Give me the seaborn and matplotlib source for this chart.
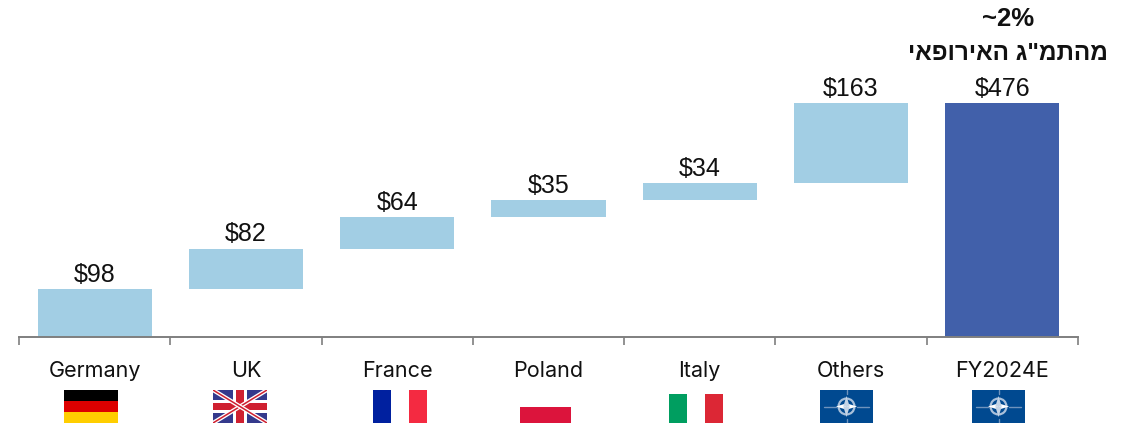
import numpy as np
import pandas as pd
import matplotlib
matplotlib.use("Agg")
import matplotlib.pyplot as plt
from matplotlib.patches import Rectangle, Polygon, Ellipse
import seaborn as sns

categories = ["Germany", "UK", "France", "Poland", "Italy", "Others", "FY2024E"]
increments = [98, 82, 64, 35, 34, 163]
total = [476]
bar_labels = ["$98", "$82", "$64", "$35", "$34", "$163", "$476"]
note_top = "~2%"
note_hebrew = 'מהתמ"ג האירופאי'

LIGHT = "#a2cee4"
DARK = "#4160aa"
W, H = 1132, 423

sns.set_theme(style="white")
plt.rcParams["font.family"] = ["Liberation Sans", "DejaVu Sans"]

# waterfall: each step starts where the last one ended
values = increments + total
bottoms = list(np.cumsum([0] + increments[:-1])) + [0]
df = pd.DataFrame({"category": categories, "value": values, "bottom": bottoms})

fig = plt.figure(figsize=(W / 100, H / 100), dpi=100)
ax = fig.add_axes([19 / W, 1 - 337 / H, (1078 - 19) / W, (337 - 103) / H])

sns.barplot(data=df, x="category", y="value", bottom=df["bottom"].to_numpy(),
            color=LIGHT, width=0.754, saturation=1, linewidth=0, ax=ax)
ax.patches[-1].set_facecolor(DARK)

ax.set_xlim(-0.5, 6.5)
ax.set_ylim(0, 476)
ax.set_xlabel("")
ax.set_ylabel("")
ax.set_yticks([])
for s in ["top", "left", "right"]:
    ax.spines[s].set_visible(False)
ax.spines["bottom"].set_color("#7f7f7f")
ax.spines["bottom"].set_linewidth(1.4)

# ticks on the category boundaries, names on hidden minor ticks
ax.set_xticks(np.arange(-0.5, 7, 1))
ax.set_xticklabels([])
ax.tick_params(axis="x", which="major", length=6, width=1.2, color="#7f7f7f", bottom=True)
ax.set_xticks(np.arange(7), minor=True)
ax.set_xticklabels(categories, minor=True, fontfamily="Inter", fontsize=15.5, color="#111111")
ax.tick_params(axis="x", which="minor", length=0, pad=17.5)

for i, (lab, v, b) in enumerate(zip(bar_labels, values, bottoms)):
    ax.annotate(lab, (i, v + b), xytext=(0, 1.5), textcoords="offset points",
                ha="center", va="bottom", fontsize=18, color="#111111")

fig.text(1008 / W, 1 - 19 / H, note_top, ha="center", va="center", fontsize=18.5,
         fontweight="bold", color="#111111")
# matplotlib has no bidi support, so the Hebrew is handed over in visual order
fig.text(1008 / W, 1 - 53 / H, note_hebrew[::-1], ha="center", va="center", fontsize=17.5,
         fontweight="bold", color="#111111")


def flag_ax(x0, y0, x1, y1):
    a = fig.add_axes([x0 / W, 1 - y1 / H, (x1 - x0) / W, (y1 - y0) / H])
    a.set_xlim(0, 1)
    a.set_ylim(0, 1)
    a.axis("off")
    return a


def stripes(a, colors, vertical=False):
    n = len(colors)
    for i, c in enumerate(colors):
        if vertical:
            a.add_patch(Rectangle((i / n, 0), 1 / n, 1, color=c, lw=0))
        else:
            a.add_patch(Rectangle((0, 1 - (i + 1) / n), 1, 1 / n, color=c, lw=0))


def uk_flag(a):
    a.add_patch(Rectangle((0, 0), 1, 1, color="#34398c", lw=0))
    for xs, ys in [((0, 1), (0, 1)), ((0, 1), (1, 0))]:
        a.plot(xs, ys, color="white", lw=3, solid_capstyle="butt")
        a.plot(xs, ys, color="#cf2030", lw=1.1, solid_capstyle="butt")
    a.add_patch(Rectangle((0.375, 0), 0.25, 1, color="white", lw=0))
    a.add_patch(Rectangle((0, 0.3), 1, 0.4, color="white", lw=0))
    a.add_patch(Rectangle((0.425, 0), 0.15, 1, color="#cf2030", lw=0))
    a.add_patch(Rectangle((0, 0.4), 1, 0.2, color="#cf2030", lw=0))


def nato_flag(a):
    a.add_patch(Rectangle((0, 0), 1, 1, color="#004990", lw=0))
    cx, cy = 0.5, 0.5
    rx = 0.15
    ry = rx * 53 / 33
    for xs, ys in [((0.08, 0.3), (cy, cy)), ((0.7, 0.92), (cy, cy)),
                   ((cx, cx), (0.0, 0.12)), ((cx, cx), (0.88, 1.0))]:
        a.plot(xs, ys, color="#6f93bd", lw=1)
    a.add_patch(Ellipse((cx, cy), 2 * rx, 2 * ry, fill=False, ec="#a9c0da", lw=1.6))
    sx, sy = 0.2, 0.32
    t = 0.06
    tt = t * 53 / 33
    for dx, dy, c in [(1, 0, "white"), (-1, 0, "white"), (0, 1, "#c4d4e6"), (0, -1, "#c4d4e6")]:
        a.add_patch(Polygon([(cx + dx * sx, cy + dy * sy), (cx + dy * t, cy + dx * tt),
                             (cx - dy * t, cy - dx * tt)], color=c, lw=0))


stripes(flag_ax(64, 390, 118, 423), ["#000000", "#dd0000", "#ffce00"])
uk_flag(flag_ax(213, 390, 267, 423))
stripes(flag_ax(373, 390, 427, 423), ["#00209f", "#ffffff", "#f42a41"], vertical=True)
stripes(flag_ax(520, 407, 571, 423), ["#dc143c"])
stripes(flag_ax(669, 394, 723, 423), ["#009e60", "#ffffff", "#dc2735"], vertical=True)
nato_flag(flag_ax(820, 390, 873, 423))
nato_flag(flag_ax(972, 390, 1025, 423))

fig.savefig("out.png", dpi=100)
